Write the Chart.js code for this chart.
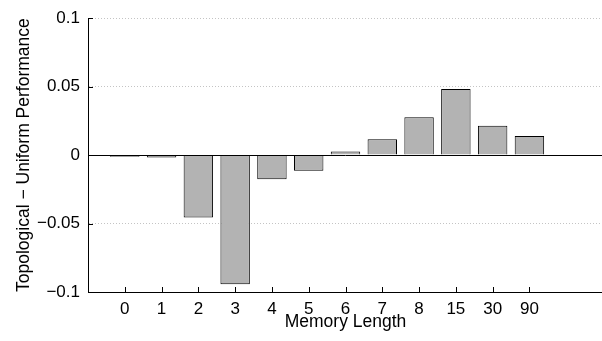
<!DOCTYPE html>
<html>
<head>
<meta charset="utf-8">
<script src="https://cdn.jsdelivr.net/npm/chart.js@4.4.1/dist/chart.umd.min.js"></script>
<style>
  html, body { margin: 0; padding: 0; background: #fff; overflow: hidden; }
</style>
</head>
<body>
<canvas id="chart" width="610" height="341"></canvas>
<script>
// memory length categories and the topological - uniform difference per bar
const memoryLengths = ['0', '1', '2', '3', '4', '5', '6', '7', '8', '15', '30', '90'];
const perfDiff = [-0.0012, -0.0018, -0.0456, -0.0943, -0.0176, -0.0114, 0.0026, 0.0116, 0.0277, 0.0482, 0.0214, 0.0140];
const yTicks = [-0.1, -0.05, 0, 0.05, 0.1];

// one empty slot on the left, two on the right -> axis runs from -1 to 13
const labels = [''].concat(memoryLengths, ['', '']);
const values = [null].concat(perfDiff, [null, null]);

const FONT = 'Liberation Sans, Arial, Helvetica, sans-serif';

function fmt(v) {
  if (v === 0) return '0';
  return String(v).replace('-', '\u2212');
}

// matlab style: ticks point into the plot, solid line at zero
const innerTicks = {
  id: 'innerTicks',
  afterDatasetsDraw(chart) {
    const { ctx, chartArea, scales: { x, y } } = chart;
    ctx.save();
    ctx.strokeStyle = '#000';
    ctx.lineWidth = 1;

    const y0 = Math.floor(y.getPixelForValue(0)) + 0.5;
    ctx.beginPath();
    ctx.moveTo(chartArea.left, y0);
    ctx.lineTo(chartArea.right, y0);
    ctx.stroke();

    labels.forEach((lab, i) => {
      if (!lab) return;
      const px = Math.round(x.getPixelForValue(i)) + 0.5;
      ctx.beginPath();
      ctx.moveTo(px, chartArea.bottom);
      ctx.lineTo(px, chartArea.bottom - 5);
      ctx.stroke();
    });

    yTicks.forEach(v => {
      const py = Math.round(y.getPixelForValue(v)) + 0.5;
      ctx.beginPath();
      ctx.moveTo(chartArea.left, py);
      ctx.lineTo(chartArea.left + 5, py);
      ctx.stroke();
    });
    ctx.restore();
  }
};

new Chart(document.getElementById('chart'), {
  type: 'bar',
  data: {
    labels: labels,
    datasets: [{
      data: values,
      backgroundColor: '#b3b3b3',
      borderColor: '#000',
      borderWidth: 1,
      barPercentage: 0.8,
      categoryPercentage: 1
    }]
  },
  options: {
    responsive: false,
    animation: false,
    devicePixelRatio: 1,
    layout: { padding: { top: 17, right: 1, left: 0, bottom: 0 } },
    plugins: {
      legend: { display: false },
      tooltip: { enabled: false }
    },
    scales: {
      x: {
        offset: false,
        grid: { display: false, drawTicks: false },
        border: { display: true, color: '#000', width: 1 },
        ticks: {
          autoSkip: false,
          maxRotation: 0,
          color: '#000',
          padding: 7,
          font: { family: FONT, size: 17 }
        },
        title: {
          display: true,
          text: 'Memory Length',
          color: '#000',
          font: { family: FONT, size: 17.5 },
          padding: { top: 0, bottom: 8 }
        },
        afterFit(s) { s.height = 49; }
      },
      y: {
        min: -0.1,
        max: 0.1,
        afterBuildTicks(s) { s.ticks = yTicks.map(v => ({ value: v })); },
        grid: {
          color: c => (c.tick && c.tick.value === 0) ? 'rgba(0,0,0,0)' : '#c4c4c4',
          drawTicks: false
        },
        border: { display: true, color: '#000', width: 1, dash: [1, 2] },
        ticks: {
          color: '#000',
          padding: 8,
          font: { family: FONT, size: 17 },
          callback: v => fmt(v)
        },
        title: {
          display: true,
          text: 'Topological \u2212 Uniform Performance',
          color: '#000',
          font: { family: FONT, size: 17.5 },
          padding: { top: 14, bottom: 0 }
        },
        afterFit(s) { s.width = 88; }
      }
    }
  },
  plugins: [innerTicks]
});
</script>
</body>
</html>
